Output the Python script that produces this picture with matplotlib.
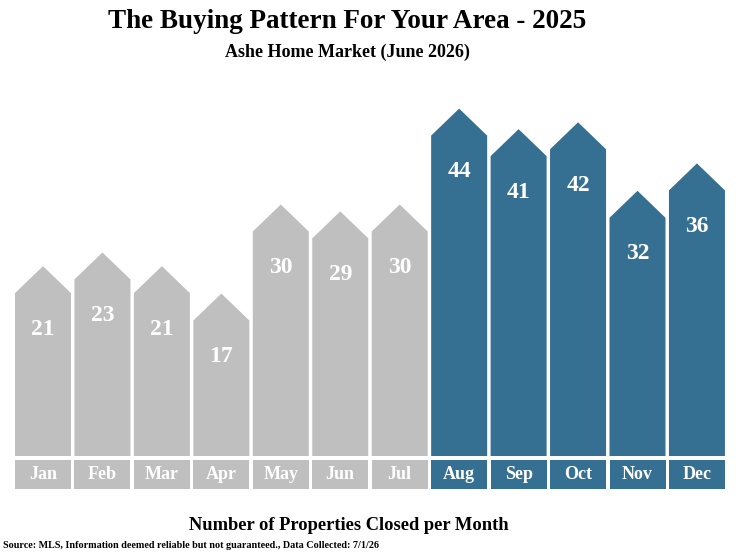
import matplotlib
matplotlib.use("Agg")
import matplotlib.pyplot as plt
from matplotlib.patches import Polygon, Rectangle

months = ["Jan", "Feb", "Mar", "Apr", "May", "Jun", "Jul", "Aug", "Sep", "Oct", "Nov", "Dec"]
closed = [21, 23, 21, 17, 30, 29, 30, 44, 41, 42, 32, 36]
highlight = [False] * 7 + [True] * 5  # Aug-Dec in blue

GREY = "#BFBFBF"
BLUE = "#356F91"
SERIF = ["Liberation Serif", "DejaVu Serif"]

# pixel scale: 59.45 px per bar slot, 6.85 px per unit
PX_X = 59.45
PX_Y = 6.85
W, H = 736, 558

fig = plt.figure(figsize=(W / 100, H / 100), dpi=100)
ax = fig.add_axes([0, 0, 1, 1])
ax.set_xlim(-43 / PX_X, (W - 43) / PX_X)
ax.set_ylim(-121 / PX_Y, (H - 121) / PX_Y)
ax.axis("off")

bar_w = 56 / PX_X
roof = 27 / PX_Y
base = -19 / PX_Y
box_top = -23 / PX_Y
box_bot = -52 / PX_Y

for i, (m, v, hi) in enumerate(zip(months, closed, highlight)):
    c = BLUE if hi else GREY
    l, r = i - bar_w / 2, i + bar_w / 2
    house = Polygon([(l, base), (r, base), (r, v), (i, v + roof), (l, v)],
                    closed=True, facecolor=c, edgecolor="none")
    ax.add_patch(house)
    ax.text(i, v - 36 / PX_Y, str(v), ha="center", va="center", color="white",
            fontsize=17, fontweight="bold", family=SERIF)
    ax.add_patch(Rectangle((l, box_bot), bar_w, box_top - box_bot, facecolor=c, edgecolor="none"))
    ax.text(i, (box_top + box_bot) / 2, m, ha="center", va="center", color="white",
            fontsize=13, fontweight="bold", family=SERIF)

fig.text(347 / W, 1 - 22 / H, "The Buying Pattern For Your Area - 2025", ha="center", va="center",
         fontsize=19.5, fontweight="bold", family=SERIF)
fig.text(347 / W, 1 - 52 / H, "Ashe Home Market (June 2026)", ha="center", va="center",
         fontsize=13, fontweight="bold", family=SERIF)
fig.text(349 / W, 1 - 526 / H, "Number of Properties Closed per Month", ha="center", va="center",
         fontsize=13.3, fontweight="bold", family=SERIF)
fig.text(3 / W, 1 - 545 / H, "Source: MLS, Information deemed reliable but not guaranteed., Data Collected: 7/1/26",
         ha="left", va="center", fontsize=7.3, fontweight="bold", family=SERIF)

fig.savefig("out.png", dpi=100)
plt.close(fig)
